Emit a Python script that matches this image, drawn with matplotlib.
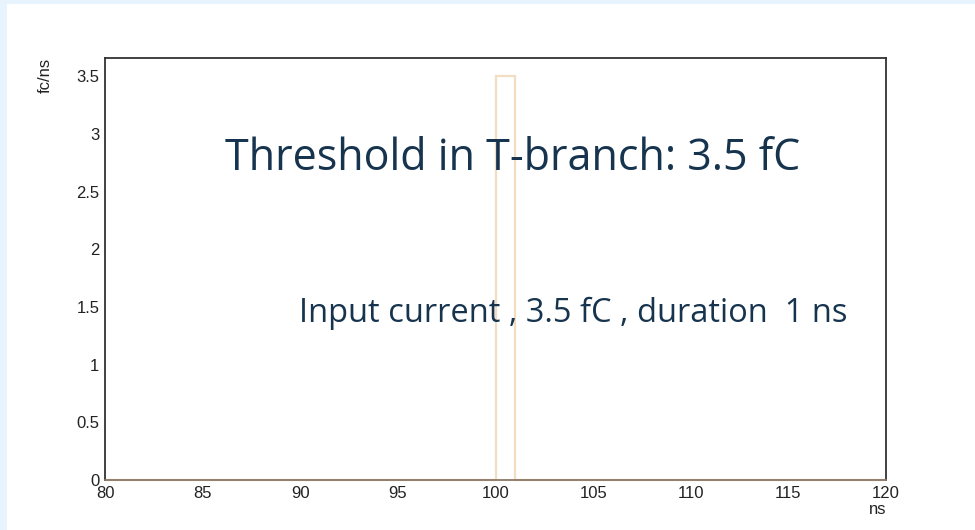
import matplotlib
matplotlib.use("Agg")
import matplotlib.pyplot as plt
from matplotlib.patches import Rectangle

# Data
bin_edges = [80, 100, 101, 120]
bin_values = [0, 3.5, 0]
x_ticks = [80, 85, 90, 95, 100, 105, 110, 115, 120]
x_tick_labels = ["80", "85", "90", "95", "100", "105", "110", "115", "120"]
y_ticks = [0, 0.5, 1, 1.5, 2, 2.5, 3, 3.5]
y_tick_labels = ["0", "0.5", "1", "1.5", "2", "2.5", "3", "3.5"]
title_text = "Threshold in T-branch: 3.5 fC"
info_text = "Input current , 3.5 fC , duration  1 ns"

W, H = 975, 530
fig = plt.figure(figsize=(W / 100, H / 100), dpi=100)
fig.patch.set_facecolor("#e8f4fd")
bg = Rectangle((7 / W, 0), 1 - 7 / W, 1 - 4 / H, transform=fig.transFigure,
               facecolor="white", edgecolor="none", zorder=-10)
fig.patches.append(bg)

ax = fig.add_axes([105 / W, 1 - 480 / H, (886 - 105) / W, (480 - 58) / H])
ax.set_zorder(5)
ax.set_facecolor("white")
ax.set_xlim(80, 120)
ax.set_ylim(0, 3.657)

ax.stairs(bin_values, bin_edges, color="#f3ddc2", linewidth=1.6, zorder=1, clip_on=False)

for s in ax.spines.values():
    s.set_color("#333333")
    s.set_linewidth(1.3)
    s.set_zorder(2.5)
ax.spines["bottom"].set_color("#8a7766")

tick_font = dict(family="Liberation Sans", size=12, color="#222222")
ax.set_xticks(x_ticks)
ax.set_xticklabels(x_tick_labels, **tick_font)
ax.set_yticks(y_ticks)
ax.set_yticklabels(y_tick_labels, **tick_font)
ax.tick_params(axis="both", length=0)
ax.tick_params(axis="x", pad=4)
ax.tick_params(axis="y", pad=4)

fig.text(45 / W, 1 - 58 / H, "fc/ns", rotation=90, ha="center", va="top",
         family="Liberation Sans", size=12, color="#222222", zorder=6)
fig.text(878 / W, 1 - 509 / H, "ns", ha="center", va="center",
         family="Liberation Sans", size=12, color="#222222", zorder=6)

fig.text(513 / W, 1 - 159 / H, title_text, ha="center", va="center",
         family="Open Sans", size=31, color="#17344f", zorder=10)
fig.text(573 / W, 1 - 313 / H, info_text, ha="center", va="center",
         family="Open Sans", size=23.5, color="#17344f", zorder=10)

fig.savefig("out.png", dpi=100, facecolor=fig.get_facecolor())
